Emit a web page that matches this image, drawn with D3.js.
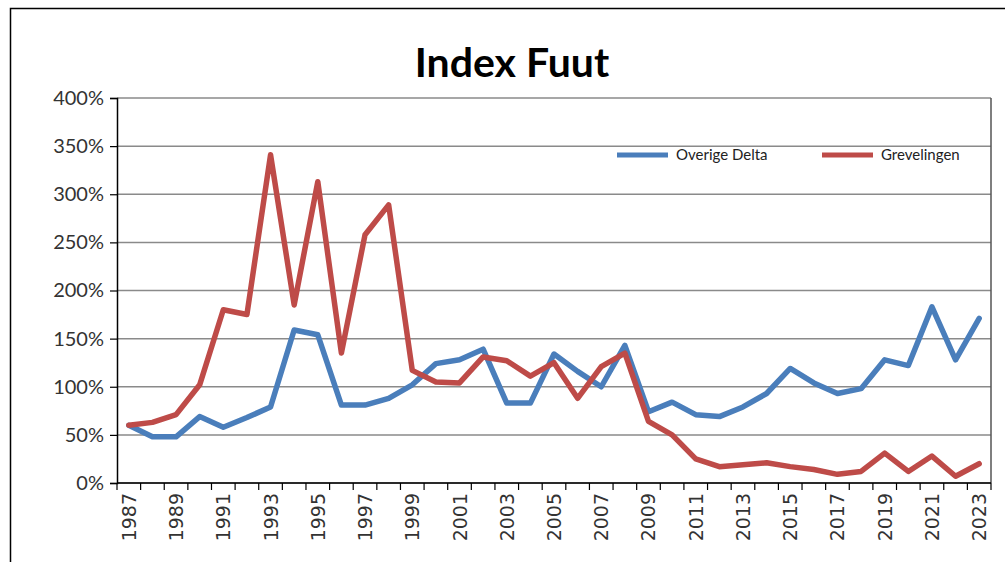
<!DOCTYPE html>
<html>
<head>
<meta charset="utf-8">
<script src="https://cdn.jsdelivr.net/npm/d3@7"></script>
<style>
    body { margin: 0; background: #fff; }
    svg { display: block; }
</style>
</head>
<body>
<svg id="chart" width="1005" height="562"></svg>
<script>
'use strict';

// chart data
const years = d3.range(1987, 2024).map(String);
const overigeDelta = [60, 48, 48, 69, 58, 68, 79, 159, 154, 81, 81, 88, 102, 124, 128,
    139, 83, 83, 134, 116, 100, 143, 74, 84, 71, 69, 79, 93, 119, 104, 93, 98, 128, 122,
    183, 128, 171];
const grevelingen = [60, 63, 71, 102, 180, 175, 341, 185, 313, 135, 258, 289, 117, 105,
    104, 131, 127, 111, 125, 88, 121, 135, 64, 50, 25, 17, 19, 21, 17, 14, 9, 12, 31, 12,
    28, 7, 20];
const yTicks = [0, 50, 100, 150, 200, 250, 300, 350, 400];
const seriesNames = ["Overige Delta", "Grevelingen"];
const seriesColors = ["#4A7EBB", "#BE4B48"];

let svg = d3.select("#chart");

// outer chart frame
svg.append("rect")
    .attr("x", 10.5).attr("y", 8.5)
    .attr("width", 1010).attr("height", 570)
    .attr("fill", "#fff")
    .attr("stroke", "#000")
    .attr("stroke-width", 1.5);

svg.append("text")
    .attr("x", 512).attr("y", 77)
    .attr("text-anchor", "middle")
    .style("font-family", "Lato, 'Open Sans', sans-serif")
    .style("font-weight", "bold")
    .style("font-size", "41px")
    .text("Index Fuut");

let plot = { left: 117, right: 991, top: 98, bottom: 483 };

let x = d3.scaleBand()
    .domain(years)
    .range([plot.left, plot.right]);

let y = d3.scaleLinear()
    .domain([0, 400])
    .range([plot.bottom, plot.top]);

// horizontal grid
svg.append("g")
    .selectAll("line")
    .data(yTicks)
    .join("line")
    .attr("x1", plot.left).attr("x2", plot.right)
    .attr("y1", d => y(d)).attr("y2", d => y(d))
    .attr("stroke", "#8a8a8a")
    .attr("stroke-width", 1.5);

// plot border on the right
svg.append("line")
    .attr("x1", plot.right).attr("x2", plot.right)
    .attr("y1", plot.top).attr("y2", plot.bottom)
    .attr("stroke", "#555")
    .attr("stroke-width", 1.5);

// y axis
let yAxis = d3.axisLeft(y)
    .tickValues(yTicks)
    .tickSize(7)
    .tickPadding(6)
    .tickFormat(d => d + "%");
let yg = svg.append("g")
    .attr("transform", `translate(${plot.left},0)`)
    .call(yAxis);
yg.select(".domain").attr("stroke", "#000").attr("stroke-width", 1.5);
yg.selectAll(".tick line").attr("stroke", "#000").attr("stroke-width", 1.2);
yg.selectAll(".tick text")
    .attr("fill", "#333")
    .style("font-family", "Lato, 'Open Sans', sans-serif")
    .style("font-size", "20px");

// x axis: ticks between the years, a label on every second year
let xg = svg.append("g")
    .attr("transform", `translate(0,${plot.bottom})`);
xg.append("line")
    .attr("x1", plot.left).attr("x2", plot.right)
    .attr("stroke", "#000").attr("stroke-width", 1.5);
xg.selectAll("line.tick")
    .data(d3.range(years.length + 1))
    .join("line")
    .attr("class", "tick")
    .attr("x1", i => plot.left + i * x.step())
    .attr("x2", i => plot.left + i * x.step())
    .attr("y1", 0).attr("y2", 7)
    .attr("stroke", "#000").attr("stroke-width", 1.2);
xg.selectAll("text")
    .data(years.filter((d, i) => i % 2 === 0))
    .join("text")
    .attr("transform", d => `translate(${x(d) + x.bandwidth() / 2 + 7},10) rotate(-90)`)
    .attr("text-anchor", "end")
    .attr("fill", "#333")
    .style("font-family", "'DejaVu Sans', sans-serif")
    .style("font-size", "19px")
    .text(d => d);

// the two series
let line = d3.line()
    .x((d, i) => x(years[i]) + x.bandwidth() / 2)
    .y(d => y(d));

[overigeDelta, grevelingen].forEach((values, k) => {
    svg.append("path")
        .datum(values)
        .attr("d", line)
        .attr("fill", "none")
        .attr("stroke", seriesColors[k])
        .attr("stroke-width", 5.5)
        .attr("stroke-linejoin", "round")
        .attr("stroke-linecap", "round");
});

// legend
let legendX = [617, 822];
let legend = svg.append("g");
seriesNames.forEach((name, k) => {
    legend.append("line")
        .attr("x1", legendX[k]).attr("x2", legendX[k] + 51)
        .attr("y1", 155).attr("y2", 155)
        .attr("stroke", seriesColors[k])
        .attr("stroke-width", 5);
    legend.append("text")
        .attr("x", legendX[k] + 59).attr("y", 160)
        .attr("fill", "#222")
        .style("font-family", "Lato, 'Open Sans', sans-serif")
        .style("font-size", "15px")
        .text(name);
});
</script>
</body>
</html>
